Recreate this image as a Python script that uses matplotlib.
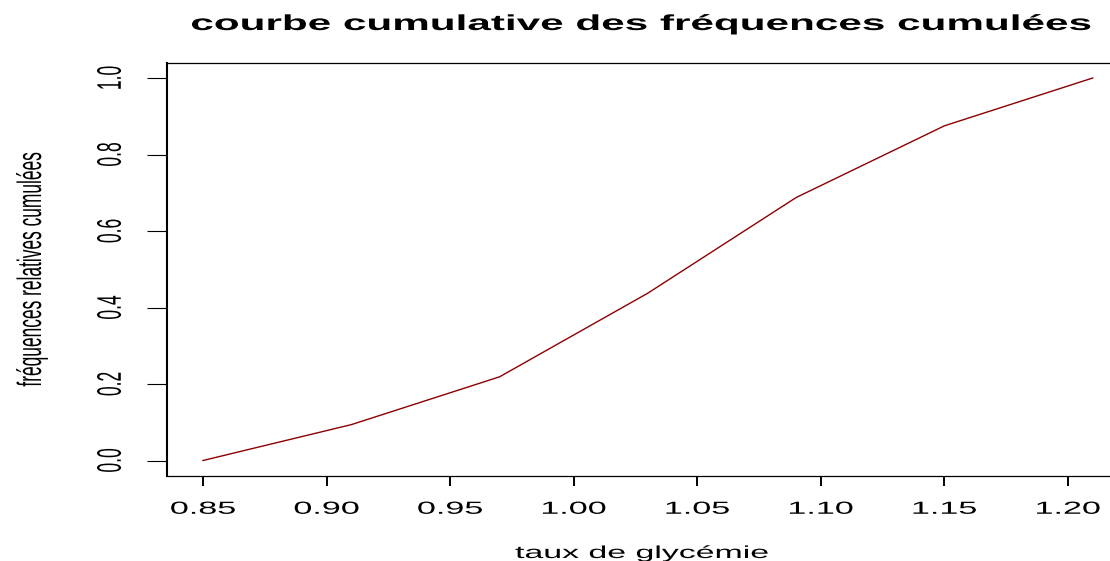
import matplotlib
matplotlib.use("Agg")
import matplotlib.pyplot as plt
from matplotlib.patheffects import AbstractPathEffect
from matplotlib.transforms import Affine2D

# ---- data ----
taux = [0.85, 0.91, 0.97, 1.03, 1.09, 1.15, 1.21]
freq_cum = [0.0, 3/32, 7/32, 14/32, 22/32, 28/32, 1.0]
xticks = [0.85, 0.90, 0.95, 1.00, 1.05, 1.10, 1.15, 1.20]
xticklabels = ["0.85", "0.90", "0.95", "1.00", "1.05", "1.10", "1.15", "1.20"]
yticks = [0.0, 0.2, 0.4, 0.6, 0.8, 1.0]
yticklabels = ["0.0", "0.2", "0.4", "0.6", "0.8", "1.0"]
title = "courbe cumulative des fréquences cumulées"
xlabel = "taux de glycémie"
ylabel = "fréquences relatives cumulées"

W, H = 1110, 561
SX = 1.95


class HStretch(AbstractPathEffect):
    """Horizontally stretch a text path (display coords)."""
    def __init__(self, sx, about="center"):
        super().__init__()
        self.sx = sx
        self.about = about

    def draw_path(self, renderer, gc, tpath, affine, rgbFace=None):
        if self.about == "center":
            ext = tpath.get_extents(affine)
            cx = 0.5 * (ext.x0 + ext.x1)
        else:
            cx = affine.transform([[0.0, 0.0]])[0][0]
        t = affine + Affine2D().translate(-cx, 0).scale(self.sx, 1).translate(cx, 0)
        renderer.draw_path(gc, tpath, t, rgbFace)


plt.rcParams["font.family"] = ["Liberation Sans", "DejaVu Sans"]

fig = plt.figure(figsize=(W / 100, H / 100), dpi=100)
left_px, right_px = 167.4, 1128.3
top_px, bot_px = 62.7, 475.8
ax = fig.add_axes([left_px / W, 1 - bot_px / H, (right_px - left_px) / W, (bot_px - top_px) / H])

ax.plot(taux, freq_cum, color="#8B0000", lw=1.0, clip_on=False)
ax.set_xlim(0.8356, 1.2244)
ax.set_ylim(-0.04, 1.04)

ax.spines["right"].set_visible(False)
ax.spines["left"].set_linewidth(1.5)
ax.spines["top"].set_linewidth(0.9)
ax.spines["bottom"].set_linewidth(0.9)

ax.set_xticks(xticks)
ax.set_xticklabels(xticklabels)
ax.set_yticks(yticks)
ax.set_yticklabels(yticklabels)
ax.tick_params(axis="x", length=7.2, width=1.4, pad=11.5, labelsize=12.6, direction="out")
ax.tick_params(axis="y", length=14.4, width=0.8, pad=17.0, labelsize=12.6, direction="out",
               labelrotation=90)
for lbl in ax.get_xticklabels():
    lbl.set_path_effects([HStretch(SX, "center")])
for lbl in ax.get_yticklabels():
    lbl.set_va("center")
    lbl.set_path_effects([HStretch(SX, "origin")])

fig.text(641 / W, 1 - 30 / H, title, ha="center", va="baseline", fontsize=15.6,
         fontweight="bold", path_effects=[HStretch(SX, "center")])
fig.text(642 / W, 1 - 558 / H, xlabel, ha="center", va="baseline", fontsize=12.5,
         path_effects=[HStretch(SX, "center")])
fig.text(41 / W, 1 - 269 / H, ylabel, ha="center", va="baseline", rotation=90,
         rotation_mode="anchor", fontsize=12.5, path_effects=[HStretch(SX, "origin")])

fig.savefig("out.png", dpi=100)
